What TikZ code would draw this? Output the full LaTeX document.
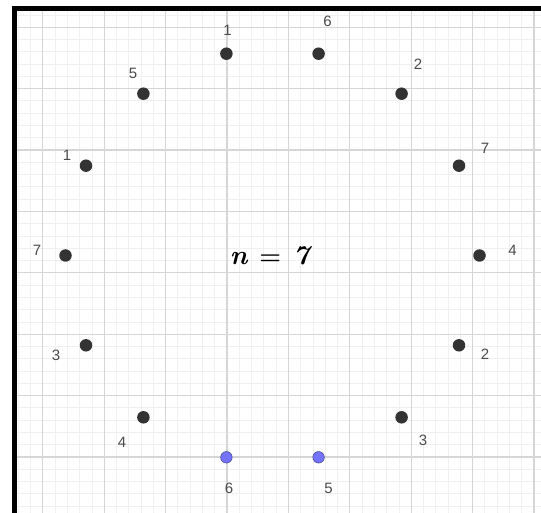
\documentclass[tikz,border=0pt]{standalone}
\usepackage{fontspec}
\setsansfont{Liberation Sans}
\begin{document}
\begin{tikzpicture}[x=1pt,y=-1pt,
  minorline/.style={draw=black!6,line width=0.8pt},
  majorline/.style={draw=black!16,line width=1.3pt},
  dot/.style={circle,fill=black!80,inner sep=0pt,minimum size=12.5pt},
  bluedot/.style={circle,fill=blue!55!white,draw=blue!40!black!70,line width=0.6pt,inner sep=0pt,minimum size=11.5pt},
  lbl/.style={font=\sffamily\fontsize{15}{17}\selectfont,text=black!70,inner sep=0pt},
  border/.style={line width=4.6pt,draw=black}]
\useasboundingbox (0,0) rectangle (541,513);
\fill[white] (0,0) rectangle (541,513);
% grid
\begin{scope}
\clip (14,9) rectangle (541,513);
\foreach \i in {-18,...,26}{
  \draw[minorline] ({227+12.28*\i},0) -- ({227+12.28*\i},513);}
\foreach \j in {-37,...,5}{
  \draw[minorline] (0,{457+12.28*\j}) -- (541,{457+12.28*\j});}
\foreach \i in {-4,...,6}{
  \draw[majorline] ({227+61.4*\i},0) -- ({227+61.4*\i},513);}
\foreach \j in {-8,...,1}{
  \draw[majorline] (0,{457+61.4*\j}) -- (541,{457+61.4*\j});}
\end{scope}
% border
\draw[border] (14.2,6.5) -- (14.2,513);
\draw[border] (11.9,8.7) -- (541,8.7);
% points
\node[dot] (p0) at (226.4,53.7) {};
\node[dot] (p1) at (143.4,93.7) {};
\node[dot] (p2) at (86.0,165.7) {};
\node[dot] (p3) at (65.5,255.5) {};
\node[dot] (p4) at (86.0,345.3) {};
\node[dot] (p5) at (143.4,417.3) {};
\node[bluedot] (p6) at (226.4,457.3) {};
\node[bluedot] (p7) at (318.6,457.3) {};
\node[dot] (p8) at (401.6,417.3) {};
\node[dot] (p9) at (459.0,345.3) {};
\node[dot] (p10) at (479.5,255.5) {};
\node[dot] (p11) at (459.0,165.7) {};
\node[dot] (p12) at (401.6,93.7) {};
\node[dot] (p13) at (318.6,53.7) {};
% labels
\node[lbl] (l0) at (227.5,30) {1};
\node[lbl] (l1) at (133,73) {5};
\node[lbl] (l2) at (67,155) {1};
\node[lbl] (l3) at (37,250) {7};
\node[lbl] (l4) at (56,355) {3};
\node[lbl] (l5) at (122,442) {4};
\node[lbl] (l6) at (229,488) {6};
\node[lbl] (l7) at (328.5,488) {5};
\node[lbl] (l8) at (423,440) {3};
\node[lbl] (l9) at (485,354) {2};
\node[lbl] (l10) at (512.5,250) {4};
\node[lbl] (l11) at (485,148) {7};
\node[lbl] (l12) at (418,64) {2};
\node[lbl] (l13) at (327.5,21) {6};
% title
\node[anchor=base,inner sep=0pt] (title) at (269.5,264.5)
  {\fontsize{27}{31}\selectfont\bfseries\itshape n\hspace{12pt}{\boldmath$=$}\hspace{12pt}7};
\end{tikzpicture}
\end{document}
